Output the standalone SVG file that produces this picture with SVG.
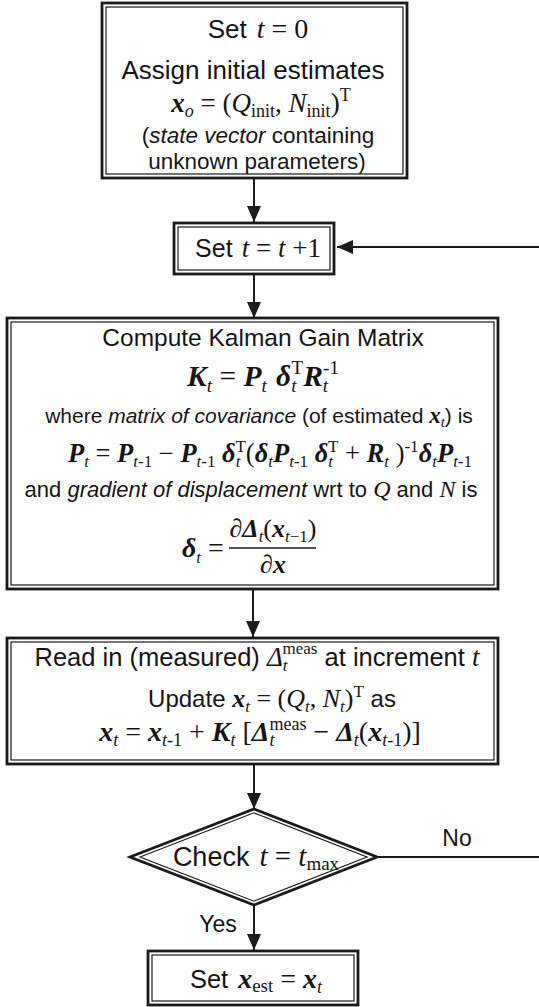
<svg xmlns="http://www.w3.org/2000/svg" width="539" height="1007" viewBox="0 0 539 1007">
<style>
text{fill:#151515}
.s{font-family:"Liberation Sans",Arial,sans-serif}
.m{font-family:"Liberation Serif","Times New Roman",serif}
.bi{font-weight:bold;font-style:italic}
.it{font-style:italic}
.o{fill:#fff;stroke:#1a1a1a;stroke-width:2.8}
.n{fill:none;stroke:#1a1a1a;stroke-width:1.2}
.c{fill:none;stroke:#1a1a1a;stroke-width:2}
</style>
<defs>
<marker id="ah" markerUnits="userSpaceOnUse" markerWidth="16" markerHeight="14" refX="16" refY="7" orient="auto"><path d="M0,0 L16,7 L0,14 Z" fill="#1a1a1a"/></marker>
</defs>
<rect width="539" height="1007" fill="#fff"/>

<g id="connectors">
<path class="c" d="M254,178 V222" marker-end="url(#ah)"/>
<path class="c" d="M254,275 V318" marker-end="url(#ah)"/>
<path class="c" d="M253,590 V637" marker-end="url(#ah)"/>
<path class="c" d="M254,765 V809" marker-end="url(#ah)"/>
<path class="c" d="M254,905 V950" marker-end="url(#ah)"/>
<path class="c" d="M377,857 H550 V247 H337" marker-end="url(#ah)"/>
<text x="457" y="846" class="s" font-size="23" text-anchor="middle">No</text>
<text x="218" y="932" class="s" font-size="23" text-anchor="middle">Yes</text>
</g>

<g id="node-init">
<rect class="o" x="102" y="3" width="305" height="175"/>
<rect class="n" x="106" y="7" width="297" height="167"/>
<text x="258" y="38" class="s" font-size="26" text-anchor="middle">Set<tspan class="m it" font-size="28" dx="10">t</tspan><tspan class="m" font-size="28"> = 0</tspan></text>
<text x="253" y="79" class="s" font-size="26" text-anchor="middle">Assign initial estimates</text>
<text x="261" y="112" class="m" font-size="27" text-anchor="middle"><tspan class="bi">x</tspan><tspan class="it" font-size="18" dy="5">o</tspan><tspan dy="-5"> = (</tspan><tspan class="it">Q</tspan><tspan font-size="18" dy="5">init</tspan><tspan dy="-5">, </tspan><tspan class="it">N</tspan><tspan font-size="18" dy="5">init</tspan><tspan dy="-5">)</tspan><tspan font-size="18" dy="-11">T</tspan></text>
<text x="258" y="143" class="s" font-size="22.5" text-anchor="middle">(<tspan class="it">state vector</tspan> containing</text>
<text x="257" y="169" class="s" font-size="22.5" text-anchor="middle">unknown parameters)</text>
</g>

<g id="node-increment">
<rect class="o" x="174" y="223" width="160" height="51"/>
<rect class="n" x="178" y="227" width="152" height="43"/>
<text x="258" y="257" class="s" font-size="25" text-anchor="middle">Set<tspan class="m it" font-size="27" dx="9">t</tspan><tspan class="m" font-size="27"> = </tspan><tspan class="m it" font-size="27">t</tspan><tspan class="m" font-size="27"> +1</tspan></text>
</g>

<g id="node-gain">
<rect class="o" x="7" y="318" width="491" height="271"/>
<rect class="n" x="11" y="322" width="483" height="263"/>
<text x="263" y="346" class="s" font-size="24.5" text-anchor="middle">Compute Kalman Gain Matrix</text>
<text x="263" y="386" class="m" font-size="29.5" text-anchor="middle"><tspan class="bi">K</tspan><tspan class="it" font-size="19" dy="6">t</tspan><tspan dy="-6"> = </tspan><tspan class="bi">P</tspan><tspan class="it" font-size="19" dy="6">t</tspan><tspan dy="-6"> </tspan><tspan class="bi" dx="2">δ</tspan><tspan class="it" font-size="19" dy="6">t</tspan><tspan font-size="19" dx="-5" dy="-18">T</tspan><tspan class="bi" dy="12">R</tspan><tspan class="it" font-size="19" dy="6">t</tspan><tspan font-size="19" dx="-5" dy="-18">-1</tspan></text>
<text x="259" y="423" class="s" font-size="21" text-anchor="middle">where <tspan class="it">matrix of covariance</tspan> (of estimated <tspan class="m bi" font-size="23">x</tspan><tspan class="m it" font-size="15" dy="4">t</tspan><tspan dy="-4">) is</tspan></text>
<text x="270" y="462" class="m" font-size="26.5" text-anchor="middle"><tspan class="bi">P</tspan><tspan class="it" font-size="17" dy="5">t</tspan><tspan dy="-5"> = </tspan><tspan class="bi">P</tspan><tspan font-size="17" dy="5"><tspan class="it">t</tspan>-1</tspan><tspan dy="-5"> − </tspan><tspan class="bi">P</tspan><tspan font-size="17" dy="5"><tspan class="it">t</tspan>-1</tspan><tspan dy="-5"> </tspan><tspan class="bi">δ</tspan><tspan class="it" font-size="17" dy="5">t</tspan><tspan font-size="17" dx="-5" dy="-15">T</tspan><tspan dy="10">(</tspan><tspan class="bi">δ</tspan><tspan class="it" font-size="17" dy="5">t</tspan><tspan class="bi" dy="-5">P</tspan><tspan font-size="17" dy="5"><tspan class="it">t</tspan>-1</tspan><tspan dy="-5"> </tspan><tspan class="bi">δ</tspan><tspan class="it" font-size="17" dy="5">t</tspan><tspan font-size="17" dx="-5" dy="-15">T</tspan><tspan dy="10"> + </tspan><tspan class="bi">R</tspan><tspan class="it" font-size="17" dy="5">t</tspan><tspan dy="-5"> )</tspan><tspan font-size="17" dy="-10">-1</tspan><tspan class="bi" dy="10">δ</tspan><tspan class="it" font-size="17" dy="5">t</tspan><tspan class="bi" dy="-5">P</tspan><tspan font-size="17" dy="5"><tspan class="it">t</tspan>-1</tspan></text>
<text x="251" y="497" class="s" font-size="22" text-anchor="middle">and <tspan class="it">gradient of displacement</tspan> wrt to <tspan class="m it" font-size="24">Q</tspan> and <tspan class="m it" font-size="24">N</tspan> is</text>
<text x="182" y="557" class="m" font-size="28"><tspan class="bi">δ</tspan><tspan class="it" font-size="17" dy="6">t</tspan><tspan dy="-6"> =</tspan></text>
<line x1="229" y1="548" x2="316" y2="548" stroke="#1a1a1a" stroke-width="1.3"/>
<text x="273" y="537" class="m" font-size="26" text-anchor="middle">∂<tspan class="bi">Δ</tspan><tspan class="it" font-size="17" dy="5">t</tspan><tspan dy="-5">(</tspan><tspan class="bi">x</tspan><tspan font-size="17" dy="5"><tspan class="it">t</tspan>−1</tspan><tspan dy="-5">)</tspan></text>
<text x="273" y="573" class="m" font-size="26" text-anchor="middle">∂<tspan class="bi">x</tspan></text>
</g>

<g id="node-update">
<rect class="o" x="7" y="638" width="491" height="126"/>
<rect class="n" x="11" y="642" width="483" height="118"/>
<text x="257" y="666" class="s" font-size="25.5" text-anchor="middle">Read in (measured) <tspan class="m it" font-size="27">Δ</tspan><tspan class="m it" font-size="17" dy="5">t</tspan><tspan class="m" font-size="17" dx="-5" dy="-17">meas</tspan><tspan dy="12"> at increment </tspan><tspan class="m it" font-size="27">t</tspan></text>
<text x="272" y="707" class="s" font-size="24" text-anchor="middle">Update <tspan class="m bi" font-size="26">x</tspan><tspan class="m it" font-size="17" dy="5">t</tspan><tspan class="m" font-size="26" dy="-5"> = (</tspan><tspan class="m it" font-size="26">Q</tspan><tspan class="m it" font-size="17" dy="5">t</tspan><tspan class="m" font-size="26" dy="-5">, </tspan><tspan class="m it" font-size="26">N</tspan><tspan class="m it" font-size="17" dy="5">t</tspan><tspan class="m" font-size="26" dy="-5">)</tspan><tspan class="m" font-size="17" dy="-10">T</tspan><tspan dy="10"> as</tspan></text>
<text x="260" y="741" class="m" font-size="28" text-anchor="middle"><tspan class="bi">x</tspan><tspan class="it" font-size="18" dy="5">t</tspan><tspan dy="-5"> = </tspan><tspan class="bi">x</tspan><tspan font-size="18" dy="5"><tspan class="it">t</tspan>-1</tspan><tspan dy="-5"> + </tspan><tspan class="bi">K</tspan><tspan class="it" font-size="18" dy="5">t</tspan><tspan dy="-5"> [</tspan><tspan class="bi">Δ</tspan><tspan class="it" font-size="18" dy="5">t</tspan><tspan font-size="18" dx="-5" dy="-16">meas</tspan><tspan dy="11"> − </tspan><tspan class="bi">Δ</tspan><tspan class="it" font-size="18" dy="5">t</tspan><tspan dy="-5">(</tspan><tspan class="bi">x</tspan><tspan font-size="18" dy="5"><tspan class="it">t</tspan>-1</tspan><tspan dy="-5">)]</tspan></text>
</g>

<g id="node-check">
<polygon class="o" points="130,857 254,809 377,857 254,905" stroke-width="2"/>
<polygon class="n" points="140,857 254,812.8 367,857 254,901.2"/>
<text x="256" y="866" class="s" font-size="27" text-anchor="middle">Check<tspan class="m it" font-size="29" dx="10">t</tspan><tspan class="m" font-size="29"> = </tspan><tspan class="m it" font-size="29">t</tspan><tspan class="m" font-size="19" dy="4">max</tspan></text>
</g>

<g id="node-result">
<rect class="o" x="148" y="951" width="210" height="54"/>
<rect class="n" x="152" y="955" width="202" height="46"/>
<text x="256" y="988" class="s" font-size="25.5" text-anchor="middle">Set<tspan class="m bi" font-size="28" dx="10">x</tspan><tspan class="m" font-size="19" dy="4">est</tspan><tspan class="m" font-size="28" dy="-4"> = </tspan><tspan class="m bi" font-size="28">x</tspan><tspan class="m it" font-size="18" dy="5">t</tspan></text>
</g>
</svg>
